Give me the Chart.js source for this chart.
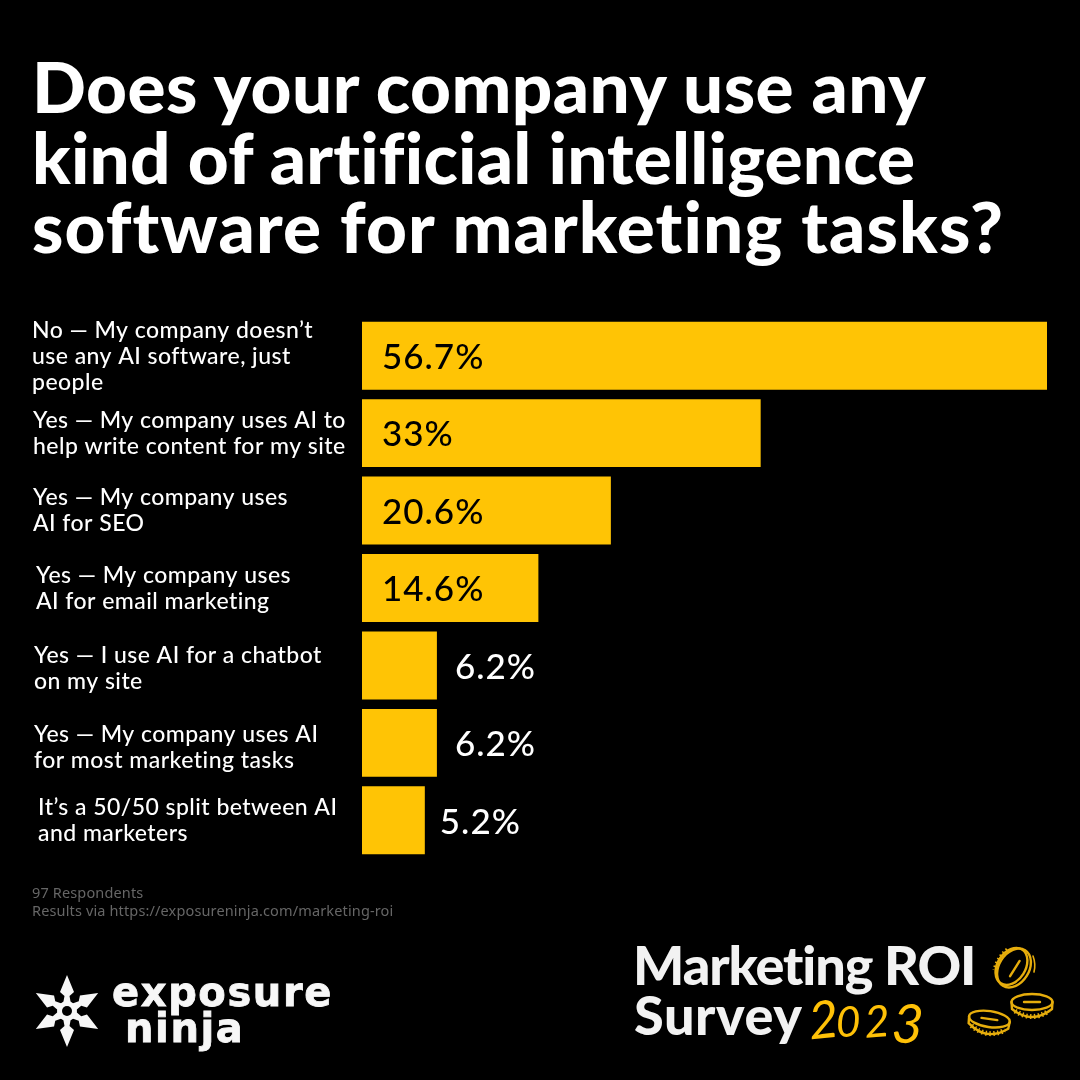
<!DOCTYPE html>
<html lang="en">

<head>
    <meta charset="UTF-8">
    <title>Does your company use any kind of artificial intelligence software for marketing tasks?</title>
    <style>
        html, body { margin: 0; padding: 0; background: #000; }
        #page { position: relative; width: 1080px; height: 1080px; overflow: hidden; background: #000; }
        #barChart { position: absolute; left: 0; top: 0; }
        .t { position: absolute; white-space: nowrap; line-height: 1; font-family: Lato, sans-serif; }
        .title { left: 32px; color: #fff; font-size: 71px; font-weight: 900; }
        .note { left: 32px; color: #666; font-size: 14.5px; letter-spacing: 0.14px; font-family: "Noto Sans", sans-serif; }
        .brand { color: #f7f7f7; font-family: "DejaVu Sans", sans-serif; font-weight: 700; font-size: 40px; letter-spacing: 1.6px; -webkit-text-stroke: 0.8px #f7f7f7; }
        .survey { color: #f2f2f2; font-size: 54px; font-weight: 900; }
        .year { color: #ffc107; font-weight: 400; font-style: italic; }
        .year span { position: absolute; line-height: 1; }
        svg { position: absolute; left: 0; top: 0; }
    </style>
</head>

<body>
    <div id="page">
        <canvas id="barChart" width="1080" height="1080"></canvas>

        <div class="t title" style="top:50px;letter-spacing:0.46px">Does your company use any</div>
        <div class="t title" style="top:121px;letter-spacing:0.2px">kind of artificial intelligence</div>
        <div class="t title" style="top:190px;letter-spacing:1.1px">software for marketing tasks?</div>

        <div class="t note" style="top:885px">97 Respondents</div>
        <div class="t note" style="top:903px">Results via https://exposureninja.com/marketing-roi</div>

        <div class="t brand" style="left:112px;top:972px">exposure</div>
        <div class="t brand" style="left:125px;top:1008px">ninja</div>

        <div class="t survey" style="left:633px;top:938px;letter-spacing:-1.1px">Marketing ROI</div>
        <div class="t survey" style="left:634px;top:988px;letter-spacing:0.6px">Survey</div>
        <div class="t year" style="left:808px;top:992px">
            <span style="left:0;top:0;font-size:52px;transform:rotate(-6deg)">2</span><span style="left:28px;top:8px;font-size:42px">0</span><span style="left:56px;top:6px;font-size:44px;transform:rotate(-4deg)">2</span><span style="left:84px;top:4px;font-size:54px;transform:rotate(4deg)">3</span>
        </div>

        <svg width="1080" height="1080" viewBox="0 0 1080 1080">
            <g fill="#f7f7f7" transform="translate(67 1011)">
                <g id="blade"><path d="M0 -36 L7 -19 L2.5 -15 L4 -7 L-4 -7 L-2.5 -15 L-7 -19 Z" /></g>
                <use href="#blade" transform="rotate(60)" />
                <use href="#blade" transform="rotate(120)" />
                <use href="#blade" transform="rotate(180)" />
                <use href="#blade" transform="rotate(240)" />
                <use href="#blade" transform="rotate(300)" />
                <circle r="10" />
                <circle r="5" fill="#000" />
            </g>
            <g fill="none" stroke="#e6ad0c" stroke-width="2.4" stroke-linecap="round">
                <g transform="translate(1014 968) rotate(32)">
                    <ellipse rx="15" ry="21" />
                    <ellipse cx="-3" rx="14" ry="20" />
                    <path d="M1 -9 L1 9" />
                    <path d="M-15 -12 Q-19 0 -15 12" stroke-width="5" stroke-dasharray="1.5 2.5" stroke-linecap="butt" />
                </g>
                <path d="M1033 956 Q1036 964 1034 972" stroke-width="1.6" />
                <g id="coin" transform="translate(1032 1005)">
                    <ellipse cy="-3" rx="20.5" ry="8" />
                    <path d="M-20.5 -3 L-20 4 Q0 20 20 4 L20.5 -3" />
                    <path d="M-8 -3 L8 -3" />
                    <path d="M-17 6 Q0 17 17 6" stroke-width="5" stroke-dasharray="1.5 2.5" stroke-linecap="butt" />
                </g>
                <g transform="translate(989 1022) rotate(8)">
                    <ellipse cy="-3" rx="20.5" ry="8" />
                    <path d="M-20.5 -3 L-20 4 Q0 20 20 4 L20.5 -3" />
                    <path d="M-8 -3 L8 -3" />
                    <path d="M-17 6 Q0 17 17 6" stroke-width="5" stroke-dasharray="1.5 2.5" stroke-linecap="butt" />
                </g>
            </g>
        </svg>
    </div>

    <script src="https://cdn.jsdelivr.net/npm/chart.js@4"></script>
    <script type="text/javascript">
        const categories = [
            ["No — My company doesn’t", "use any AI software, just", "people"],
            ["Yes — My company uses AI to", "help write content for my site"],
            ["Yes — My company uses", "AI for SEO"],
            ["Yes — My company uses", "AI for email marketing"],
            ["Yes — I use AI for a chatbot", "on my site"],
            ["Yes — My company uses AI", "for most marketing tasks"],
            ["It’s a 50/50 split between AI", "and marketers"]
        ];
        const percentages = [56.7, 33, 20.6, 14.6, 6.2, 6.2, 5.2];

        // the labels are hand placed in the original, they don't share one left edge
        const labelLeft = [32, 33, 33, 36, 34, 34, 38];
        const labelShift = [1, 0, 0, 1, 3, 5, 0];
        const outsideGap = [0, 0, 0, 0, 18, 18, 15];

        const handLabels = {
            id: "handLabels",
            afterDatasetsDraw(chart) {
                const ctx = chart.ctx;
                const y = chart.scales.y;
                const x = chart.scales.x;
                ctx.save();
                ctx.textBaseline = "middle";
                ctx.textAlign = "left";

                ctx.font = "500 23px Lato, sans-serif";
                ctx.fillStyle = "#fff";
                ctx.letterSpacing = "0.45px";
                categories.forEach((lines, i) => {
                    const mid = y.getPixelForValue(i) + labelShift[i];
                    lines.forEach((line, n) => {
                        ctx.fillText(line, labelLeft[i], mid + (n - (lines.length - 1) / 2) * 26);
                    });
                });

                ctx.font = "500 35px Lato, sans-serif";
                ctx.letterSpacing = "1px";
                percentages.forEach((v, i) => {
                    const inside = v > 10;
                    const px = inside ? x.getPixelForValue(0) + 20 : x.getPixelForValue(v) + outsideGap[i];
                    ctx.fillStyle = inside ? "#000" : "#fff";
                    ctx.fillText(v + "%", px, y.getPixelForValue(i) + 2);
                });
                ctx.restore();
            }
        };

        new Chart(document.getElementById("barChart"), {
            type: "bar",
            data: {
                labels: categories.map(c => c.join(" ")),
                datasets: [{
                    data: percentages,
                    backgroundColor: "#ffc405",
                    borderWidth: 0,
                    barPercentage: 1,
                    categoryPercentage: 0.877
                }]
            },
            options: {
                indexAxis: "y",
                responsive: false,
                animation: false,
                layout: { padding: { left: 362, right: 33, top: 317, bottom: 221 } },
                plugins: { legend: { display: false }, tooltip: { enabled: false } },
                scales: {
                    x: { display: false, min: 0, max: 56.7 },
                    y: { display: false }
                }
            },
            plugins: [handLabels]
        });
    </script>
</body>

</html>
